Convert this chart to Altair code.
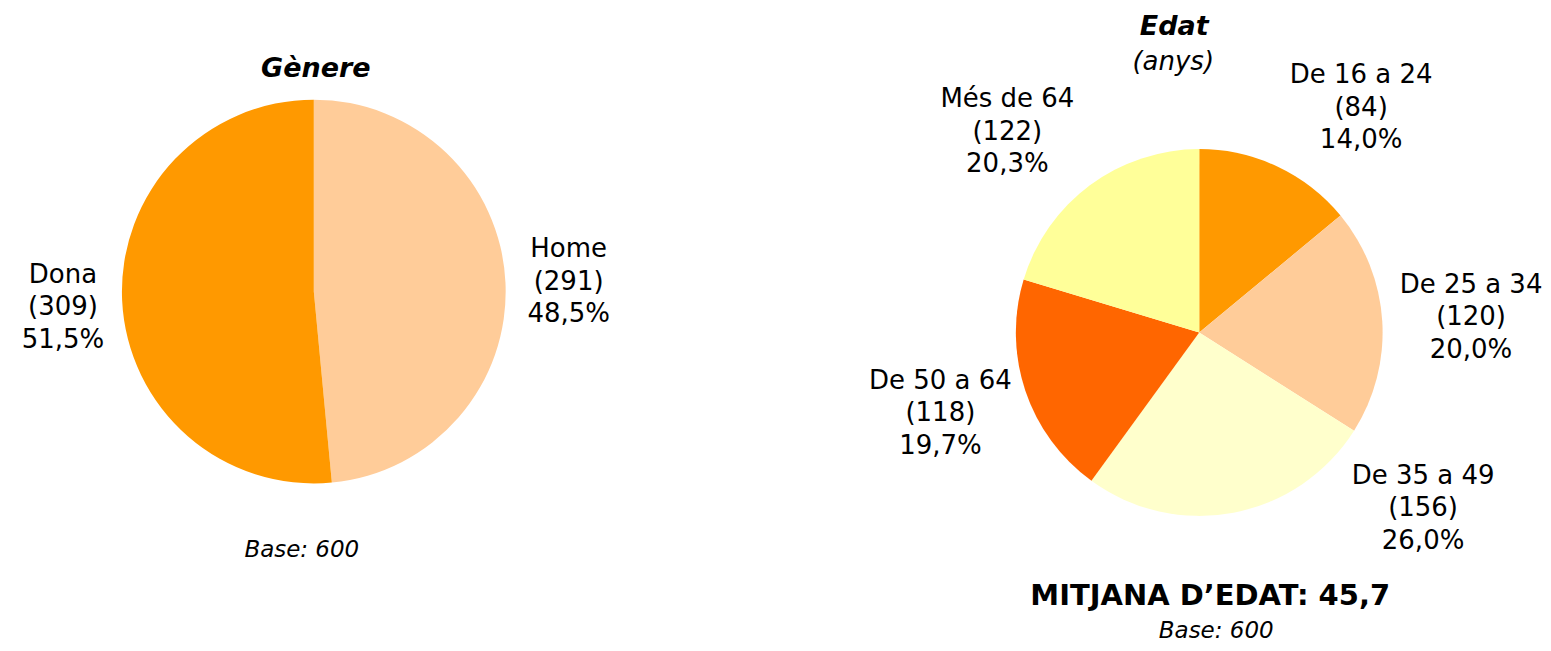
import altair as alt
import pandas as pd

# ---- data ----
gender_cats = ["Home", "Dona"]
gender_counts = [291, 309]
gender_pcts = ["48,5%", "51,5%"]

age_cats = ["De 16 a 24", "De 25 a 34", "De 35 a 49", "De 50 a 64", "Més de 64"]
age_counts = [84, 120, 156, 118, 122]
age_pcts = ["14,0%", "20,0%", "26,0%", "19,7%", "20,3%"]

gender_title = "Gènere"
age_title = "Edat"
age_subtitle = "(anys)"
mean_text = "MITJANA D\u2019EDAT: 45,7"
base_text = "Base: 600"

# ---- style / layout ----
gender_colors = ["#FFCC99", "#FF9900"]
age_colors = ["#FF9900", "#FFCC99", "#FFFFCC", "#FF6600", "#FFFF99"]
FONT = "DejaVu Sans"
OX, OY = 8, 8  # page margin offset
def px(x):
    return x - OX
def py(y):
    return y - OY

gender_label_xy = [(569, 257), (63, 283)]
age_label_xy = [(1362, 83), (1472, 293), (1424, 484), (941, 389), (1008, 107)]

g_df = pd.DataFrame({
    "cat": gender_cats, "n": gender_counts, "pct": gender_pcts,
    "idx": list(range(len(gender_cats))),
})
g_df["label"] = g_df["cat"] + "\n(" + g_df["n"].astype(str) + ")\n" + g_df["pct"]

a_df = pd.DataFrame({
    "cat": age_cats, "n": age_counts, "pct": age_pcts,
    "idx": list(range(len(age_cats))),
})
a_df["label"] = a_df["cat"] + "\n(" + a_df["n"].astype(str) + ")\n" + a_df["pct"]

gender_pie = alt.Chart(g_df).mark_arc(outerRadius=192).encode(
    theta=alt.Theta("n:Q", stack=True),
    order=alt.Order("idx:Q"),
    color=alt.Color("cat:N", scale=alt.Scale(domain=gender_cats, range=gender_colors), legend=None),
    x=alt.value(px(314)), y=alt.value(py(291.5)),
)

age_pie = alt.Chart(a_df).mark_arc(outerRadius=183.5).encode(
    theta=alt.Theta("n:Q", stack=True),
    order=alt.Order("idx:Q"),
    color=alt.Color("cat:N", scale=alt.Scale(domain=age_cats, range=age_colors), legend=None),
    x=alt.value(px(1200)), y=alt.value(py(332.5)),
)

layers = [gender_pie, age_pie]

def label_layer(df, cat, xy):
    return alt.Chart(df).transform_filter(alt.datum.cat == cat).mark_text(
        font=FONT, fontSize=26, lineBreak="\n", lineHeight=32.5,
        align="center", baseline="alphabetic", color="black",
    ).encode(x=alt.value(px(xy[0])), y=alt.value(py(xy[1])), text="label:N")

for c, xy in zip(gender_cats, gender_label_xy):
    layers.append(label_layer(g_df, c, xy))
for c, xy in zip(age_cats, age_label_xy):
    layers.append(label_layer(a_df, c, xy))

def static_text(txt, x, y, size, weight="normal", style="normal"):
    return alt.Chart(pd.DataFrame({"t": [txt]})).mark_text(
        font=FONT, fontSize=size, fontWeight=weight, fontStyle=style,
        align="center", baseline="alphabetic", color="black",
    ).encode(x=alt.value(px(x)), y=alt.value(py(y)), text="t:N")

layers += [
    static_text(gender_title, 316, 77, 27, "bold", "italic"),
    static_text(age_title, 1175, 35, 27, "bold", "italic"),
    static_text(age_subtitle, 1174, 70, 26, "normal", "italic"),
    static_text(mean_text, 1211, 605, 29, "bold"),
    static_text(base_text, 302, 557, 23, "normal", "italic"),
    static_text(base_text, 1217, 638, 23, "normal", "italic"),
]

chart = alt.layer(*layers).resolve_scale(
    color="independent", theta="independent"
).properties(
    width=1535, height=635, padding=0, background="white"
).configure_view(stroke=None)

chart.save("out.html", embed_options={"renderer": "svg", "actions": False})
